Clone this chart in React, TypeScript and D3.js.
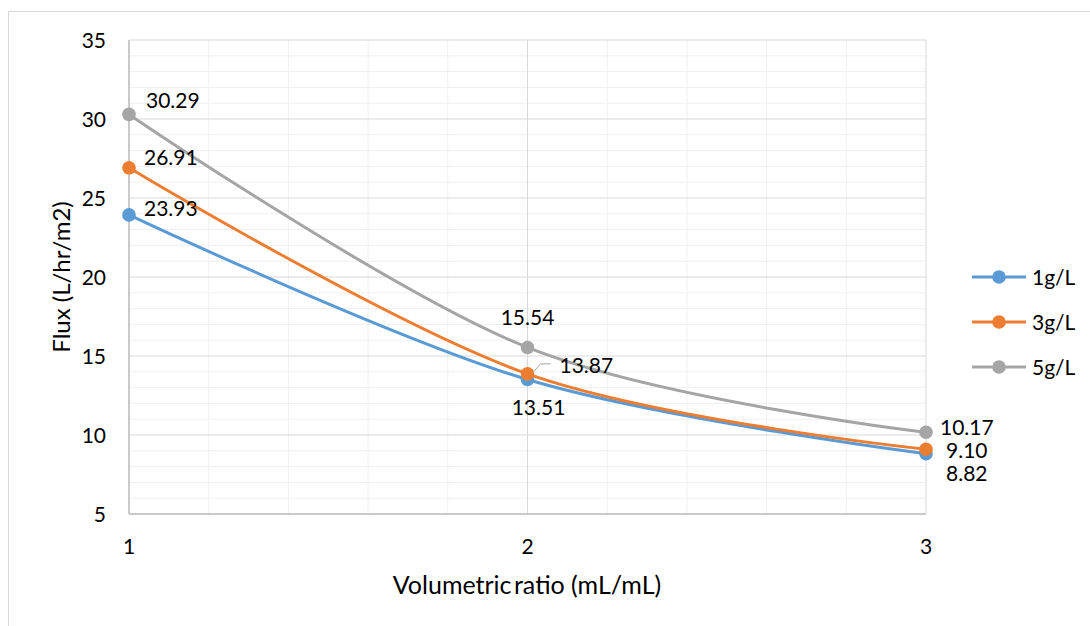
import React from "react";
import * as d3 from "d3";

// Volumetric ratio (mL/mL) on the x axis
const ratios = [1, 2, 3];
// Flux values (L/hr/m2) for each feed concentration
const flux1 = [23.93, 13.51, 8.82];
const flux3 = [26.91, 13.87, 9.1];
const flux5 = [30.29, 15.54, 10.17];
const seriesNames = ["1g/L", "3g/L", "5g/L"];
const seriesColors = ["#5B9BD5", "#ED7D31", "#A5A5A5"];
const yTicks = [5, 10, 15, 20, 25, 30, 35];
const xTicks = [1, 2, 3];

const W = 1090;
const H = 626;
const FONT = "Lato, 'Open Sans', sans-serif";

// placement of each value label relative to its point: [anchor, dx, dy]
const labelPlacement: [string, number, number][][] = [
  [["start", 15, -6], ["middle", 11, 27.5], ["start", 20, 20]],
  [["start", 15, -10], ["start", 32, -8], ["start", 20, 1]],
  [["start", 17, -14], ["middle", 0, -30], ["start", 14, -5]],
];

export default function App() {
  const x = d3.scaleLinear().domain([1, 3]).range([129, 926]);
  const y = d3.scaleLinear().domain([5, 35]).range([514, 40]);

  const series = [flux1, flux3, flux5];
  const line = d3
    .line<[number, number]>()
    .x((d) => x(d[0]))
    .y((d) => y(d[1]))
    .curve(d3.curveCardinal.tension(0));

  const minorY = d3.range(5, 35.001, 1).filter((v) => v % 5 !== 0);
  const minorX = d3.range(1, 3.001, 0.2).filter((v) => Math.abs(v - Math.round(v)) > 1e-6);

  const fmt = d3.format(".2f");

  return (
    <svg
      width={W}
      height={H}
      style={{ position: "absolute", left: 0, top: 0, display: "block", background: "#fff" }}
      fontFamily={FONT}
    >
      <rect x={8.5} y={11.5} width={W} height={H} fill="#fff" stroke="#d9d9d9" strokeWidth={1} />

      {/* minor grid */}
      {minorY.map((v) => (
        <line key={"my" + v} x1={x(1)} x2={x(3)} y1={y(v)} y2={y(v)} stroke="#f0f0f0" strokeWidth={1} />
      ))}
      {minorX.map((v) => (
        <line key={"mx" + v} x1={x(v)} x2={x(v)} y1={y(5)} y2={y(35)} stroke="#f0f0f0" strokeWidth={1} />
      ))}
      {/* major grid */}
      {yTicks.map((v) => (
        <line key={"gy" + v} x1={x(1)} x2={x(3)} y1={y(v)} y2={y(v)} stroke="#d9d9d9" strokeWidth={1} />
      ))}
      {xTicks.map((v) => (
        <line key={"gx" + v} x1={x(v)} x2={x(v)} y1={y(5)} y2={y(35)} stroke="#d9d9d9" strokeWidth={1} />
      ))}
      {/* axes */}
      <line x1={x(1)} x2={x(1)} y1={y(5)} y2={y(35)} stroke="#bfbfbf" strokeWidth={1.5} />
      <line x1={x(1)} x2={x(3)} y1={y(5)} y2={y(5)} stroke="#bfbfbf" strokeWidth={1.5} />

      {/* tick labels */}
      {yTicks.map((v) => (
        <text key={"ty" + v} x={106} y={y(v)} dy="0.36em" textAnchor="end" fontSize={21} fill="#000">
          {v}
        </text>
      ))}
      {xTicks.map((v) => (
        <text key={"tx" + v} x={x(v)} y={546} dy="0.36em" textAnchor="middle" fontSize={21} fill="#000">
          {v}
        </text>
      ))}

      {/* axis titles */}
      <text x={527} y={585} dy="0.36em" textAnchor="middle" fontSize={25} fill="#000">
        <tspan>Volumetric</tspan>
        <tspan dx={-4}> ratio (mL/mL)</tspan>
      </text>
      <text
        transform={`translate(61,277) rotate(-90)`}
        dy="0.36em"
        textAnchor="middle"
        fontSize={24}
        fill="#000"
      >
        Flux (L/hr/m2)
      </text>

      {/* series */}
      {series.map((vals, si) => {
        const pts: [number, number][] = ratios.map((r, i) => [r, vals[i]]);
        return (
          <g key={"s" + si}>
            <path d={line(pts) || ""} fill="none" stroke={seriesColors[si]} strokeWidth={3} strokeLinecap="round" />
            {pts.map((p, i) => (
              <circle key={i} cx={x(p[0])} cy={y(p[1])} r={6.8} fill={seriesColors[si]} />
            ))}
          </g>
        );
      })}

      {/* leader line for the 3g/L label at ratio 2 */}
      <polyline
        points={`${x(2) + 6},${y(flux3[1]) - 2} ${x(2) + 13},${y(flux3[1]) - 10} ${x(2) + 23},${y(flux3[1]) - 10}`}
        fill="none"
        stroke="#a6a6a6"
        strokeWidth={1}
      />

      {/* value labels */}
      {series.map((vals, si) =>
        vals.map((v, i) => {
          const [anchor, dx, dy] = labelPlacement[si][i];
          return (
            <text
              key={"l" + si + i}
              x={x(ratios[i]) + dx}
              y={y(v) + dy}
              dy="0.36em"
              textAnchor={anchor as any}
              fontSize={21}
              fill="#000"
            >
              {fmt(v)}
            </text>
          );
        })
      )}

      {/* legend */}
      {seriesNames.map((name, i) => {
        const ly = 277 + i * 45;
        return (
          <g key={"lg" + i}>
            <line x1={972} x2={1026} y1={ly} y2={ly} stroke={seriesColors[i]} strokeWidth={3} />
            <circle cx={999} cy={ly} r={6.8} fill={seriesColors[i]} />
            <text x={1032} y={ly} dy="0.36em" fontSize={21} fill="#000">
              {name}
            </text>
          </g>
        );
      })}
    </svg>
  );
}
